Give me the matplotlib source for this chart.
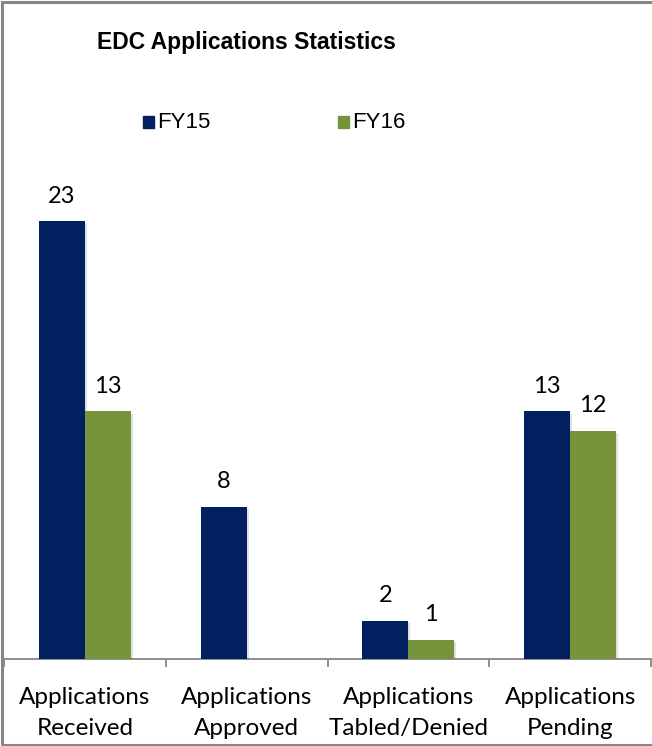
import numpy as np
import matplotlib
matplotlib.use("Agg")
from matplotlib import pyplot as plt
from matplotlib.patches import Rectangle
from matplotlib import patheffects

# Chart data
categories = ["Applications\nReceived", "Applications\nApproved",
              "Applications\nTabled/Denied", "Applications\nPending"]
fy15 = [23, 8, 2, 13]
fy16 = [13, 0, 1, 12]
seriesNames = ["FY15", "FY16"]

navy = "#002060"
green = "#77933C"
gridGray = "#868686"

W, H = 652, 746
fig = plt.figure(figsize=(W / 100, H / 100), dpi=100)

# Outer chart border (open on the right side)
fig.patches.append(Rectangle((2 / W, 1.5 / H), 1.0, (H - 3.5) / H, transform=fig.transFigure,
                             fill=False, edgecolor=gridGray, linewidth=2.2))

# Plot area: baseline at pixel row 659, 19.04 px per unit
axBottom = 1 - 659 / H
axTop = 1 - 100 / H
ax = fig.add_axes([4 / W, axBottom, 647 / W, axTop - axBottom])
ax.set_xlim(-0.5, 3.5)
ax.set_ylim(0, (659 - 100) / 19.04)

x = np.arange(len(categories))
barWidth = 0.2845
shadow = [patheffects.SimplePatchShadow(offset=(1.5, -1.5), shadow_rgbFace="#000000", alpha=0.12),
          patheffects.Normal()]

labelFont = "Lato"
for values, color, offset in [(fy15, navy, -barWidth / 2), (fy16, green, barWidth / 2)]:
    for xi, v in zip(x, values):
        if v == 0:
            continue
        b = ax.bar(xi + offset, v, width=barWidth, color=color, zorder=3)
        b.patches[0].set_path_effects(shadow)
        ax.annotate(str(v), (xi + offset, v), xytext=(0, 18), textcoords="offset points",
                    ha="center", va="center", fontsize=17, family=labelFont, color="black")

# Axis styling
for side in ["top", "right", "left"]:
    ax.spines[side].set_visible(False)
ax.spines["bottom"].set_color(gridGray)
ax.spines["bottom"].set_linewidth(1.3)
ax.set_yticks([])
ax.set_xticks(np.arange(-0.5, 4.0, 1.0))
ax.set_xticklabels([])
ax.tick_params(axis="x", direction="out", length=6, width=1.3, color=gridGray)
for xi, name in zip(x, categories):
    ax.text(xi, -2.85, name, ha="center", va="center", fontsize=17.5, family=labelFont,
            linespacing=1.6, transform=ax.transData, clip_on=False)

# Title and legend
headFont = "Liberation Sans"
fig.text(246 / W, 1 - 43 / H, "EDC Applications Statistics", ha="center", va="center",
         fontsize=16.5, fontweight="bold", family=headFont)
legendItems = [(143, navy, seriesNames[0]), (338, green, seriesNames[1])]
for px, color, name in legendItems:
    fig.patches.append(Rectangle((px / W, 1 - 128 / H), 11 / W, 12 / H,
                                 transform=fig.transFigure, color=color))
    fig.text((px + 14) / W, 1 - 122.5 / H, name, ha="left", va="center", fontsize=16,
             family=headFont)

fig.savefig("out.png", dpi=100)
